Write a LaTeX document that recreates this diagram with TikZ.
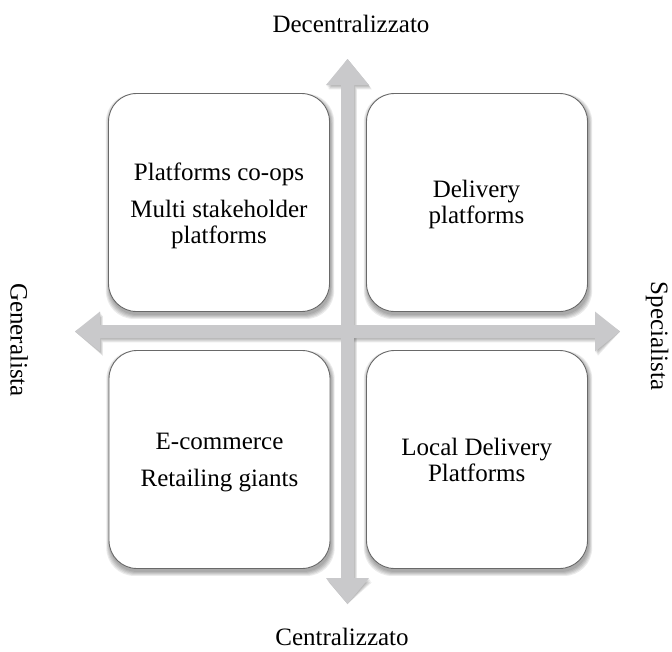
\documentclass[tikz,border=0pt]{standalone}
\usepackage{fontspec}
\setmainfont{Liberation Serif}
\definecolor{arrowgray}{RGB}{201,201,203}
\definecolor{boxline}{RGB}{105,105,105}
\pgfdeclarelayer{bg}
\pgfsetlayers{bg,main}
\begin{document}
\begin{tikzpicture}[x=1pt,y=-1pt,
  box/.style={draw=boxline, line width=0.9pt, fill=white, rounded corners=28pt,
    minimum width=221pt, minimum height=218pt, inner sep=0pt},
  lbl/.style={font=\fontsize{25}{26}\selectfont, align=center, inner sep=0pt},
  axislbl/.style={font=\fontsize{25}{26}\selectfont, inner sep=0pt},
  arrowshape/.style={fill=arrowgray},
  softshadow/.style={fill=black, opacity=0.08},
]
\useasboundingbox (0,0) rectangle (672,651);

% quadrant boxes
\node[box] (tl) at (219,202.5) {};
\node[box] (tr) at (477,202.5) {};
\node[box] (bl) at (219.5,459.5) {};
\node[box] (br) at (477,459.5) {};

% box texts
\node[lbl] (ttl) at (219,205.7) {Platforms co-ops\\[11pt]Multi stakeholder\\platforms};
\node[lbl] (ttr) at (476.5,204.7) {Delivery\\platforms};
\node[lbl] (tbl) at (219.5,463) {E-commerce\\[11pt]Retailing giants};
\node[lbl] (tbr) at (476.7,460) {Local Delivery\\Platforms};

% axis labels
\node[axislbl, anchor=base] (dec) at (351,32) {Decentralizzato};
\node[axislbl, anchor=base] (cen) at (342,645.5) {Centralizzato};
\node[axislbl, anchor=base, rotate=-90] (gen) at (10.5,340) {Generalista};
\node[axislbl, anchor=base, rotate=-90] (spe) at (651,336) {Specialista};

% arrow end points
\coordinate (vtop) at (347.5,59);
\coordinate (vbot) at (347.5,604);
\coordinate (hleft) at (75,331.5);
\coordinate (hright) at (620,331.5);

\begin{pgfonlayer}{bg}
  % arrow shadows
  \foreach \k in {1,2,3,4}{
    \fill[softshadow, shift={({0.7*\k},{1.1*\k})}]
      (vtop) -- (369,85) -- (354,85) -- (354,578) -- (369,578) -- (vbot)
      -- (326,578) -- (341,578) -- (341,85) -- (326,85) -- cycle;
    \fill[softshadow, shift={({0.7*\k},{1.1*\k})}]
      (hleft) -- (100,311.5) -- (100,325) -- (595,325) -- (595,311.5) -- (hright)
      -- (595,351.5) -- (595,338) -- (100,338) -- (100,351.5) -- cycle;
  }
  % arrows
  \fill[arrowshape]
    (vtop) -- (369,85) -- (354,85) -- (354,578) -- (369,578) -- (vbot)
    -- (326,578) -- (341,578) -- (341,85) -- (326,85) -- cycle;
  \fill[arrowshape]
    (hleft) -- (100,311.5) -- (100,325) -- (595,325) -- (595,311.5) -- (hright)
    -- (595,351.5) -- (595,338) -- (100,338) -- (100,351.5) -- cycle;
  % box shadows
  \foreach \n in {tl,tr,bl,br}{
    \foreach \k in {0,1,2,3,4}{
      \fill[softshadow, rounded corners=28pt]
        ([shift={({1-0.8*\k},{3-0.6*\k})}]\n.north west)
        rectangle ([shift={({1+0.8*\k},{3+1.0*\k})}]\n.south east);
    }
  }
\end{pgfonlayer}
\end{tikzpicture}
\end{document}
